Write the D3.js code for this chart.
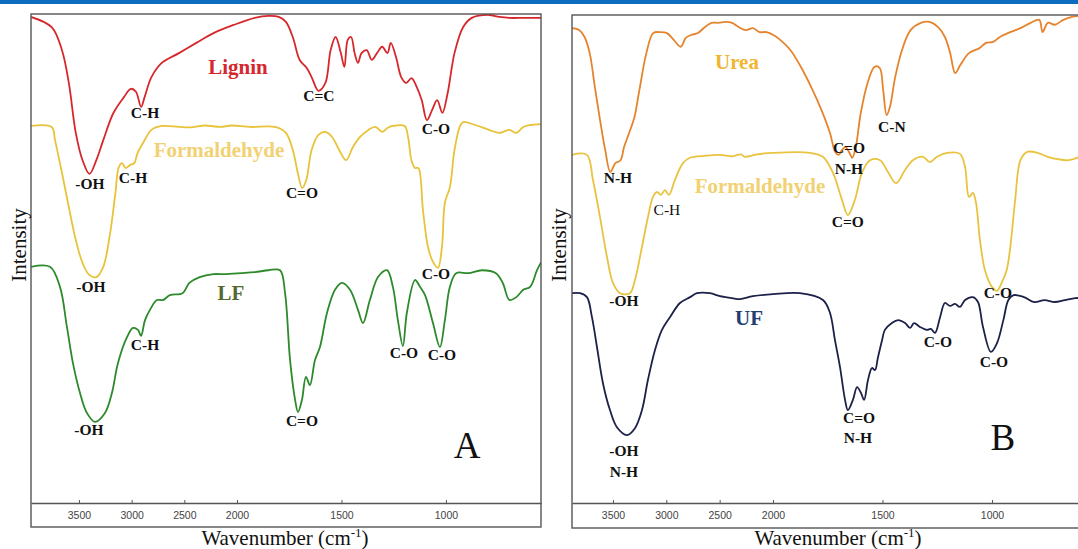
<!DOCTYPE html>
<meta charset="utf-8">
<script src="https://d3js.org/d3.v7.min.js"></script>
<body style="margin:0;background:#fff">
<svg width="1078" height="549"></svg>
<script>
// FTIR spectra. x = wavenumber (cm-1), y = intensity in arbitrary units (0..100)
var ticks = [3500, 3000, 2500, 2000, 1500, 1000];

var lignin = [[3955,99.4],[3759,97.3],[3661,92.6],[3596,85.9],[3530,75.7],[3466,70.1],[3400,67.3],[3335,70.1],
  [3269,74.2],[3172,79.8],[3073,83.0],[3007,84.7],[2959,84.1],[2910,81.0],[2877,83.0],[2812,87.1],[2714,90.0],
  [2551,92.0],[2386,94.1],[2223,96.1],[2027,97.8],[1915,99.2],[1849,99.6],[1800,99.4],[1766,98.4],[1733,95.3],
  [1700,90.6],[1667,89.0],[1643,87.1],[1610,84.3],[1577,85.9],[1552,92.6],[1528,95.3],[1503,92.0],[1486,89.2],
  [1470,94.7],[1454,95.3],[1437,92.0],[1421,90.0],[1404,92.0],[1379,92.6],[1355,90.6],[1330,92.0],[1305,93.3],
  [1280,92.0],[1264,94.1],[1239,91.2],[1214,87.1],[1190,85.9],[1165,86.9],[1140,85.1],[1116,82.4],[1091,78.3],
  [1066,80.4],[1042,82.4],[1017,79.8],[992,83.8],[959,92.0],[918,97.3],[876,99.2],[794,99.8],[745,99.4],
  [696,99.2],[630,99.2],[545,99.2]];

var formA = [[3955,77.1],[3759,76.9],[3727,74.2],[3661,67.5],[3596,60.5],[3530,53.8],[3466,49.1],[3400,46.6],
  [3335,46.2],[3269,48.3],[3204,55.2],[3154,63.4],[3122,68.7],[3090,69.5],[3057,68.5],[3014,69.1],[2975,69.5],
  [2943,71.6],[2877,74.2],[2812,76.3],[2714,77.1],[2600,77.0],[2446,76.8],[2300,77.2],[2161,76.9],[2050,77.2],
  [1938,76.9],[1818,76.9],[1766,75.7],[1733,72.2],[1709,67.5],[1688,64.4],[1668,66.1],[1643,72.2],[1610,75.3],
  [1577,75.9],[1544,74.8],[1511,72.2],[1478,70.1],[1445,72.8],[1412,74.8],[1371,76.3],[1338,76.9],[1305,75.9],
  [1280,76.7],[1255,77.1],[1198,77.1],[1181,74.8],[1165,70.1],[1148,68.5],[1132,68.5],[1110,59.9],[1086,52.4],
  [1062,49.3],[1038,48.1],[1019,52.4],[1005,61.4],[981,64.6],[959,72.2],[934,76.9],[918,77.9],[860,77.3],
  [794,76.3],[745,75.7],[696,76.3],[663,75.7],[630,76.9],[597,77.3],[545,77.5]];

var lf = [[3955,48.3],[3775,48.3],[3680,44.2],[3614,36.0],[3557,28.6],[3490,22.5],[3424,18.4],[3348,16.6],
  [3253,18.4],[3187,22.5],[3130,28.6],[3044,33.9],[2987,35.8],[2940,35.4],[2911,34.2],[2873,37.4],[2826,39.5],
  [2760,41.5],[2703,41.5],[2636,42.5],[2517,42.9],[2452,45.0],[2354,46.2],[2223,46.8],[2125,46.8],[1981,47.0],
  [1914,47.2],[1849,47.6],[1794,47.6],[1770,42.9],[1746,29.2],[1722,21.1],[1708,18.6],[1689,21.1],[1670,25.8],
  [1651,24.1],[1627,29.2],[1603,31.9],[1569,38.9],[1531,43.6],[1498,45.0],[1459,43.6],[1421,39.5],[1397,36.8],
  [1364,41.5],[1325,46.2],[1282,47.6],[1254,44.2],[1230,37.4],[1206,32.1],[1187,38.9],[1148,45.6],[1124,44.2],
  [1100,42.5],[1062,36.8],[1029,31.9],[1005,37.4],[981,44.2],[951,47.0],[893,47.0],[828,47.6],[761,47.0],
  [728,45.0],[696,41.5],[663,42.1],[630,43.6],[597,44.2],[564,47.6],[545,49.2]];

var urea = [[3884,97.1],[3814,96.7],[3766,95.3],[3718,92.0],[3670,85.1],[3621,78.3],[3573,72.2],[3525,67.7],
  [3477,69.5],[3429,70.1],[3396,72.8],[3348,75.7],[3299,78.9],[3252,84.5],[3187,92.0],[3123,96.1],[3058,96.3],
  [2994,96.1],[2930,94.7],[2865,93.3],[2818,95.1],[2769,95.7],[2704,96.1],[2640,97.3],[2576,98.2],[2512,98.2],
  [2447,98.4],[2383,98.2],[2319,97.3],[2254,96.7],[2189,97.1],[2126,96.3],[2061,96.3],[1998,95.7],[1967,94.7],
  [1920,92.6],[1873,89.2],[1826,85.1],[1779,80.4],[1740,75.7],[1716,71.8],[1700,71.2],[1685,72.2],[1669,72.8],
  [1653,71.8],[1638,70.6],[1622,72.8],[1599,79.8],[1568,85.9],[1536,89.2],[1513,89.0],[1497,84.5],[1481,79.3],
  [1466,81.0],[1442,87.1],[1411,92.6],[1372,96.7],[1325,98.2],[1285,98.4],[1246,97.3],[1215,95.3],[1191,92.0],
  [1168,87.9],[1144,89.6],[1105,92.0],[1058,93.0],[1027,94.1],[995,94.3],[964,95.3],[917,96.3],[870,97.1],
  [823,98.2],[784,98.8],[769,96.3],[745,98.2],[713,97.8],[674,98.8],[635,99.4],[598,99.6]];

var formB = [[3884,71.2],[3744,71.2],[3688,66.1],[3622,58.5],[3556,50.3],[3500,45.0],[3434,42.9],[3341,42.9],
  [3294,45.6],[3228,52.4],[3172,58.5],[3125,62.6],[3088,63.6],[3050,63.0],[3013,64.0],[2975,63.0],[2919,66.1],
  [2844,69.5],[2778,70.6],[2640,71.0],[2497,71.2],[2380,70.9],[2300,71.3],[2263,70.8],[2150,71.3],[2000,71.6],
  [1831,71.6],[1772,70.8],[1726,67.5],[1685,62.0],[1658,58.9],[1626,62.0],[1594,67.5],[1557,70.1],[1511,70.1],
  [1475,67.7],[1438,65.4],[1397,68.1],[1361,70.1],[1315,70.8],[1283,69.7],[1251,70.8],[1205,71.6],[1146,71.4],
  [1123,68.7],[1105,62.6],[1087,63.4],[1073,61.4],[1055,53.8],[1032,47.6],[1000,44.2],[977,43.4],[956,45.0],
  [933,47.6],[918,51.7],[894,62.0],[870,70.1],[839,71.8],[792,71.6],[745,70.8],[698,70.3],[651,70.1],[598,70.8]];

var uf = [[3884,42.9],[3809,42.9],[3744,42.1],[3697,38.0],[3650,31.9],[3594,24.5],[3528,19.0],[3463,15.5],
  [3369,13.9],[3294,15.3],[3228,19.0],[3172,25.2],[3106,31.3],[3041,35.4],[2966,38.0],[2872,40.9],[2778,42.1],
  [2713,42.9],[2591,42.9],[2497,42.3],[2384,41.9],[2309,41.7],[2188,42.3],[2000,42.7],[1877,42.9],[1772,41.5],
  [1740,38.9],[1717,33.3],[1694,27.8],[1671,21.1],[1658,19.0],[1635,21.1],[1616,23.7],[1598,22.5],[1584,21.1],
  [1566,25.2],[1548,27.6],[1534,27.2],[1521,29.7],[1502,33.3],[1489,35.4],[1457,36.8],[1429,37.4],[1397,36.8],
  [1374,35.8],[1356,36.8],[1329,36.0],[1297,35.4],[1279,35.6],[1260,34.8],[1237,38.0],[1215,40.9],[1192,40.3],
  [1169,40.7],[1146,40.1],[1123,41.5],[1087,42.1],[1064,41.1],[1041,36.0],[1005,30.9],[977,32.7],[948,37.4],
  [925,41.5],[901,42.5],[854,42.1],[807,41.1],[760,41.5],[713,41.1],[667,41.5],[620,41.9],[598,41.9]];

// band assignments: [text, wavenumber, intensity, bold]
var bandsA = [["C-H",2873,78.7,1],["-OH",3396,64.2,1],["C=C",1608,82.2,1],["C-O",1048,75.5,1],
  ["-OH",3386,43.1,1],["C-H",2987,65.4,1],["C=O",1689,62.4,1],["C-O",1048,45.8,1],
  ["C-H",2873,31.3,1],["-OH",3405,13.9,1],["C=O",1689,15.7,1],["C-O",1201,29.7,1],["C-O",1019,29.2,1]];
var bandsB = [["N-H",3453,65.4,1],["C=O",1653,71.6,1],["N-H",1653,67.3,1],["C-N",1457,75.9,1],
  ["C-H",2994,58.9,0],["-OH",3397,40.3,1],["C=O",1658,56.4,1],["C-O",973,41.9,1],
  ["-OH",3397,9.6,1],["N-H",3397,5.3,1],["C=O",1607,16.4,1],["N-H",1612,12.3,1],["C-O",1247,31.9,1],["C-O",991,27.8,1]];

// series names: [text, wavenumber, intensity, colour]
var namesA = [["Lignin",1995,87.7,"#d5272c"],["Formaldehyde",2171,70.8,"#f1d172"],["LF",2057,41.5,"#56692e"]];
var namesB = [["Urea",2338,88.8,"#f0b631"],["Formaldehyde",2122,63.4,"#f1d172"],["UF",2225,36.4,"#1f3e72"]];

var svg = d3.select('svg');
svg.append('rect').attr('x', 0).attr('y', 0).attr('width', 1078).attr('height', 4).attr('fill', '#0e6cbf');

var serif = '"Liberation Serif", "Times New Roman", serif';

function panel(p) {
    var x = d3.scaleLinear().domain(p.domain).range([p.left, p.brk, p.right]);
    var y = d3.scaleLinear().domain([0, 100]).range([503, 14]);
    var g = svg.append('g');

    g.append('clipPath').attr('id', 'clip' + p.name).append('rect')
        .attr('x', p.left).attr('y', p.top).attr('width', p.right - p.left).attr('height', 503 - p.top);

    var line = d3.line()
        .x(function (d) { return x(d[0]); })
        .y(function (d) { return y(d[1]); })
        .curve(d3.curveCatmullRom.alpha(0.5));

    p.series.forEach(function (s) {
        g.append('path').datum(s.data)
            .attr('clip-path', 'url(#clip' + p.name + ')')
            .attr('fill', 'none')
            .attr('stroke', s.color)
            .attr('stroke-width', 1.8)
            .attr('stroke-linejoin', 'round')
            .attr('d', line);
    });

    var ax = g.append('g').attr('transform', 'translate(0,503)')
        .call(d3.axisBottom(x).tickValues(ticks).tickFormat(d3.format('d'))
            .tickSizeInner(-3).tickSizeOuter(0).tickPadding(9))
        .attr('font-family', '"Liberation Sans", Arial, sans-serif')
        .attr('font-size', 10.5);
    ax.select('.domain').attr('stroke', '#555').attr('stroke-width', 1.3);
    ax.selectAll('.tick line').attr('stroke', '#555');
    ax.selectAll('.tick text').attr('fill', '#444');

    g.append('rect')
        .attr('x', p.left).attr('y', p.top)
        .attr('width', p.right - p.left).attr('height', p.bottom - p.top)
        .attr('fill', 'none').attr('stroke', '#555').attr('stroke-width', 1.4);

    g.selectAll('text.band').data(p.bands).enter().append('text')
        .attr('class', 'band')
        .attr('x', function (d) { return x(d[1]); })
        .attr('y', function (d) { return y(d[2]); })
        .attr('text-anchor', 'middle')
        .attr('font-family', serif)
        .attr('font-size', 15.5)
        .attr('font-weight', function (d) { return d[3] ? 'bold' : 'normal'; })
        .attr('fill', '#111')
        .text(function (d) { return d[0]; });

    g.selectAll('text.name').data(p.names).enter().append('text')
        .attr('class', 'name')
        .attr('x', function (d) { return x(d[1]); })
        .attr('y', function (d) { return y(d[2]); })
        .attr('text-anchor', 'middle')
        .attr('font-family', serif)
        .attr('font-size', 21)
        .attr('font-weight', 'bold')
        .attr('fill', function (d) { return d[3]; })
        .text(function (d) { return d[0]; });

    g.append('text')
        .attr('x', x(p.letter[1])).attr('y', y(p.letter[2]))
        .attr('text-anchor', 'middle')
        .attr('font-family', serif).attr('font-size', 37)
        .attr('fill', '#111')
        .text(p.letter[0]);

    g.append('text')
        .attr('transform', 'translate(' + p.ytitle + ',245) rotate(-90)')
        .attr('text-anchor', 'middle')
        .attr('font-family', serif).attr('font-size', 21)
        .attr('fill', '#111')
        .text('Intensity');

    var t = g.append('text')
        .attr('x', p.xtitle).attr('y', 545)
        .attr('text-anchor', 'middle')
        .attr('font-family', serif).attr('font-size', 21)
        .attr('fill', '#111');
    t.append('tspan').text('Wavenumber (cm');
    t.append('tspan').attr('dy', -8).attr('font-size', 13).text('-1');
    t.append('tspan').attr('dy', 8).text(')');
}

panel({
    name: 'A', left: 31, brk: 237, right: 541, top: 14, bottom: 527,
    domain: [3955, 2000, 545],
    series: [{ data: lignin, color: '#d6282b' }, { data: formA, color: '#e8c33a' }, { data: lf, color: '#2c8a2c' }],
    bands: bandsA, names: namesA, letter: ['A', 899, 9.2], ytitle: 26, xtitle: 285
});

panel({
    name: 'B', left: 572, brk: 773, right: 1080, top: 15, bottom: 528,
    domain: [3884, 2000, 598],
    series: [{ data: urea, color: '#e5842d' }, { data: formB, color: '#e9c33f' }, { data: uf, color: '#1c2148' }],
    bands: bandsB, names: namesB, letter: ['B', 950, 10.8], ytitle: 566, xtitle: 838
});
</script>
</body>
